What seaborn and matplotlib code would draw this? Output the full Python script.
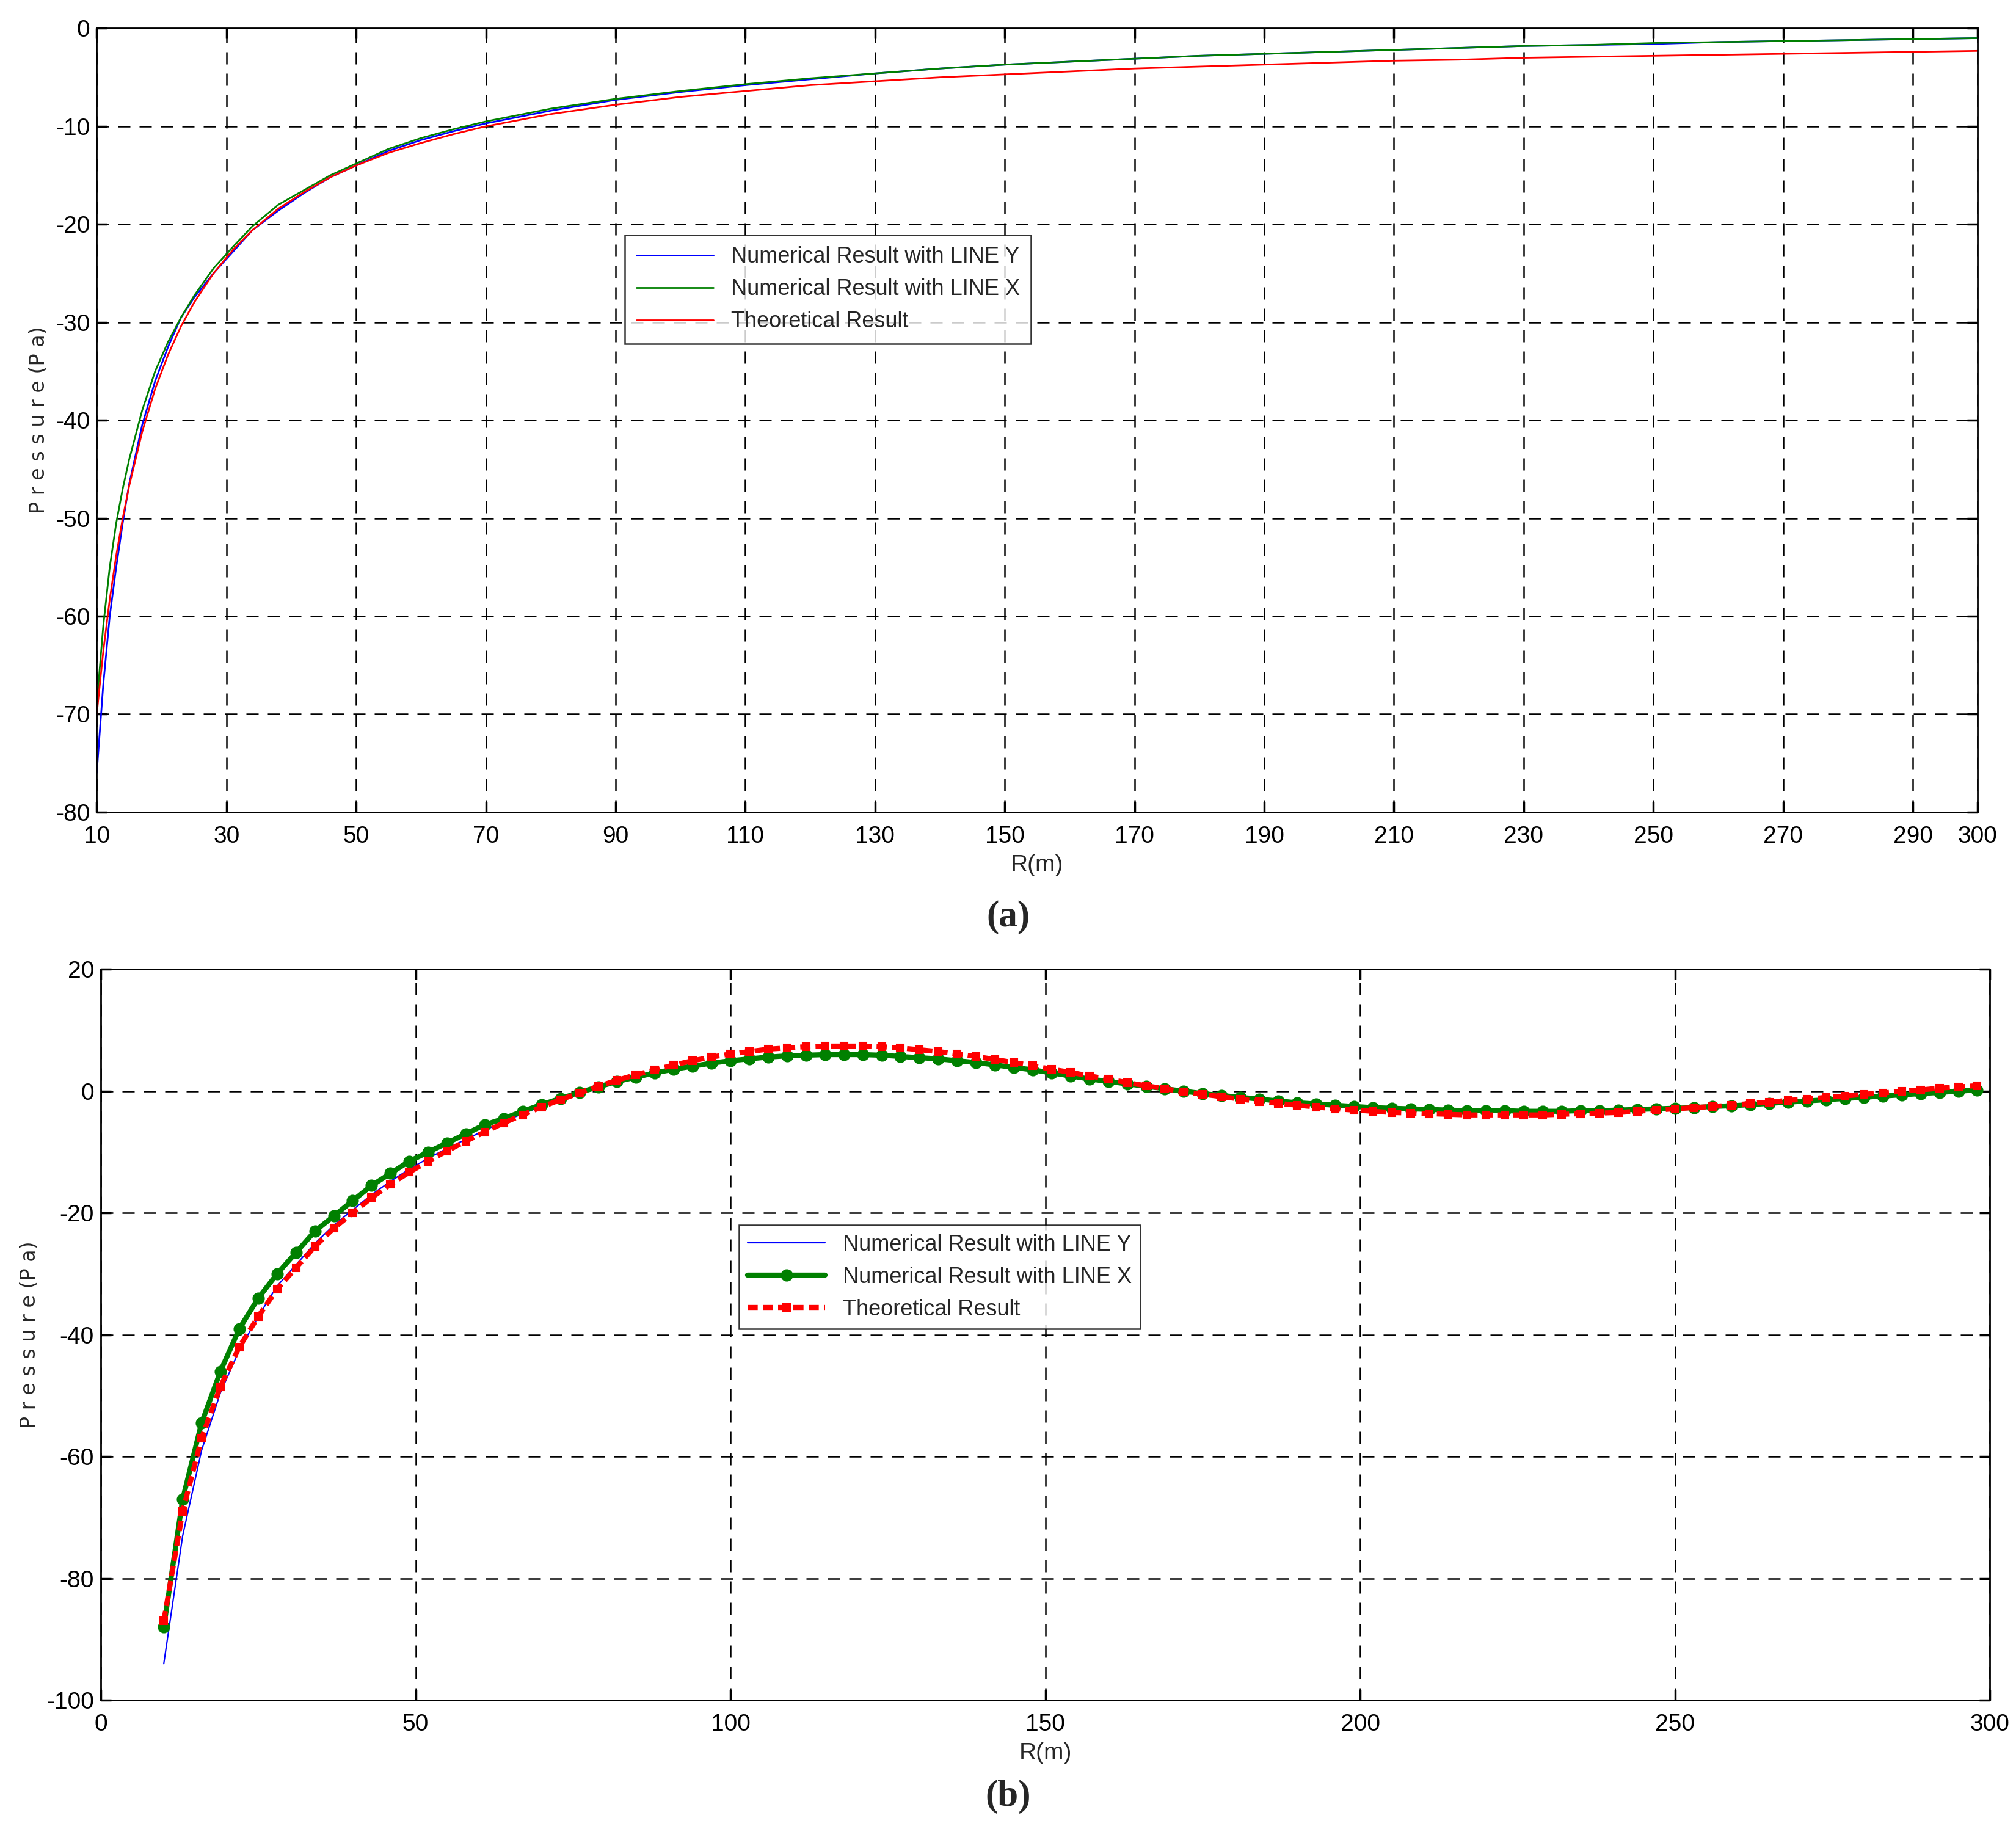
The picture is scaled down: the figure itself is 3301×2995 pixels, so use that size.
import numpy as np
import pandas as pd
import matplotlib
matplotlib.use("Agg")
import matplotlib.pyplot as plt
import seaborn as sns

sns.set_theme(style="white")
plt.rcParams['font.family'] = ['Liberation Sans Narrow', 'Liberation Sans', 'DejaVu Sans']
plt.rcParams['axes.unicode_minus'] = False

# ---------- panel (a) data ----------
xa = [10, 11, 12, 13, 14, 15, 17, 19, 21, 23, 25, 28, 31, 34, 38, 42, 46, 50, 55, 60, 65, 70,
      80, 90, 100, 110, 120, 130, 140, 150, 160, 170, 180, 190, 200, 210, 220, 230, 240, 250,
      260, 270, 280, 290, 300]
a_line_y = [-76, -67, -60, -55, -50.5, -46.5, -40.5, -36, -32.5, -29.5, -27.5, -25, -22.8, -20.6,
            -18.6, -16.8, -15.2, -14, -12.5, -11.4, -10.5, -9.7, -8.4, -7.3, -6.5, -5.8, -5.2,
            -4.6, -4.1, -3.7, -3.4, -3.1, -2.8, -2.6, -2.4, -2.2, -2.0, -1.8, -1.7, -1.6, -1.4,
            -1.3, -1.2, -1.1, -1.0]
a_line_x = [-69, -61, -55, -50.5, -47, -44, -39, -35, -32, -29.5, -27.3, -24.5, -22.3, -20.2, -18,
            -16.5, -15, -13.8, -12.3, -11.2, -10.3, -9.5, -8.2, -7.2, -6.4, -5.7, -5.1, -4.6,
            -4.1, -3.7, -3.4, -3.1, -2.8, -2.6, -2.4, -2.2, -2.0, -1.8, -1.7, -1.5, -1.4, -1.3,
            -1.2, -1.1, -1.0]
a_theory = [-70, -63.6, -58.3, -53.8, -50, -46.7, -41.2, -36.8, -33.3, -30.4, -28, -25, -22.6,
            -20.6, -18.4, -16.7, -15.2, -14, -12.7, -11.7, -10.8, -10, -8.75, -7.8, -7, -6.4,
            -5.8, -5.4, -5, -4.7, -4.4, -4.1, -3.9, -3.7, -3.5, -3.3, -3.2, -3.0, -2.9, -2.8,
            -2.7, -2.6, -2.5, -2.4, -2.3]

# ---------- panel (b) data ----------
xb = list(range(10, 299, 3))
b_line_x = [-88, -67, -54.5, -46, -39, -34, -30, -26.5, -23, -20.5, -18, -15.5, -13.5, -11.5,
            -10, -8.5, -7, -5.5, -4.5, -3.3, -2.2, -1.2, -0.2, 0.7, 1.6, 2.3, 3.0, 3.6, 4.1,
            4.6, 5.0, 5.3, 5.6, 5.8, 5.9, 6.0, 6.0, 6.0, 5.9, 5.7, 5.5, 5.3, 5.0, 4.7, 4.3,
            3.9, 3.5, 3.0, 2.5, 2.0, 1.6, 1.2, 0.8, 0.4, 0.0, -0.4, -0.7, -1.0, -1.3, -1.6,
            -1.9, -2.1, -2.3, -2.5, -2.7, -2.8, -2.9, -3.0, -3.1, -3.2, -3.2, -3.2, -3.3, -3.3,
            -3.3, -3.2, -3.2, -3.1, -3.0, -2.9, -2.8, -2.7, -2.5, -2.4, -2.2, -2.0, -1.8, -1.6,
            -1.4, -1.2, -1.0, -0.8, -0.6, -0.4, -0.2, 0.0, 0.2]
b_theory = [-87, -69, -57, -48.5, -42, -37, -32.5, -29, -25.5, -22.5, -20, -17.5, -15.3, -13.3,
            -11.5, -9.8, -8.2, -6.7, -5.2, -3.9, -2.6, -1.4, -0.3, 0.8, 1.8, 2.7, 3.5, 4.3, 5.0,
            5.6, 6.1, 6.5, 6.9, 7.1, 7.3, 7.4, 7.4, 7.4, 7.3, 7.1, 6.8, 6.5, 6.1, 5.7, 5.2,
            4.7, 4.2, 3.6, 3.1, 2.5, 2.0, 1.4, 0.9, 0.4, -0.1, -0.5, -0.9, -1.3, -1.7, -2.0,
            -2.3, -2.6, -2.9, -3.1, -3.3, -3.5, -3.6, -3.7, -3.8, -3.9, -3.9, -3.9, -3.9, -3.9,
            -3.8, -3.7, -3.6, -3.5, -3.3, -3.1, -2.9, -2.7, -2.5, -2.3, -2.0, -1.8, -1.5, -1.3,
            -1.0, -0.8, -0.5, -0.3, 0.0, 0.2, 0.5, 0.7, 0.9]
b_line_y_head = [-94, -73, -59, -49.5, -42.5, -37, -32, -28.5, -25, -22, -19.5, -17, -14.8,
                 -12.8, -11, -9.4, -7.9, -6.4, -5.0, -3.7, -2.5, -1.4]
b_line_y = b_line_y_head + b_line_x[len(b_line_y_head):]

labels = ["Numerical Result with LINE Y", "Numerical Result with LINE X", "Theoretical Result"]

W, H, DPI = 3301, 2995, 200
fig = plt.figure(figsize=(W / DPI, H / DPI), dpi=DPI)
fig.patch.set_facecolor("white")
axa = fig.add_axes([0.048, 0.556, 0.933, 0.4285])
axb = fig.add_axes([0.050, 0.0704, 0.937, 0.3996])

FS = 14

def style(ax):
    ax.set_facecolor("white")
    for s in ax.spines.values():
        s.set_color("black"); s.set_linewidth(1.0); s.set_visible(True)
    ax.grid(True, color="black", linestyle=(0, (8, 6)), linewidth=0.9)
    ax.tick_params(direction="in", length=6, labelsize=FS, colors="black",
                   bottom=True, left=True, top=True, right=True,
                   labeltop=False, labelright=False)
    ax.tick_params(axis="x", pad=8)
    ax.tick_params(axis="y", pad=4)
    ax.set_xlabel("R(m)", fontsize=FS)
    ax.set_ylabel("P r e s s u r e (P a)", fontsize=FS - 2, family=['DejaVu Sans'])

# panel a
sns.lineplot(x=xa, y=a_line_y, ax=axa, color="blue", lw=1.0, label=labels[0], sort=False, estimator=None)
sns.lineplot(x=xa, y=a_line_x, ax=axa, color="green", lw=1.0, label=labels[1], sort=False, estimator=None)
sns.lineplot(x=xa, y=a_theory, ax=axa, color="red", lw=1.0, label=labels[2], sort=False, estimator=None)
axa.set_xlim(10, 300); axa.set_ylim(-80, 0)
axa.set_xticks(list(range(10, 300, 20)) + [300])
axa.set_yticks(range(-80, 1, 10))
style(axa)
leg = axa.legend(loc="upper left", bbox_to_anchor=(0.275, 0.75), fontsize=FS - 1, frameon=True,
                 fancybox=False, edgecolor="black", handlelength=3.5, borderpad=0.5)
leg.get_frame().set_linewidth(0.9)

# panel b
sns.lineplot(x=xb, y=b_line_y, ax=axb, color="blue", lw=0.8, label=labels[0], sort=False, estimator=None)
sns.lineplot(x=xb, y=b_line_x, ax=axb, color="green", lw=3.0, marker="o", markersize=6.5,
             markeredgecolor="green", label=labels[1], sort=False, estimator=None)
sns.lineplot(x=xb, y=b_theory, ax=axb, color="red", lw=3.0, linestyle=(0, (2, 1)), marker="s",
             markersize=4, markeredgecolor="red", label=labels[2], sort=False, estimator=None)
axb.set_xlim(0, 300); axb.set_ylim(-100, 20)
axb.set_xticks(range(0, 301, 50))
axb.set_yticks(range(-100, 21, 20))
style(axb)
leg = axb.legend(loc="upper left", bbox_to_anchor=(0.332, 0.665), fontsize=FS - 1, frameon=True,
                 fancybox=False, edgecolor="black", handlelength=3.5, borderpad=0.4)
leg.get_frame().set_linewidth(0.9)

fig.text(0.5, 1 - 712 / 1420, "(a)", ha="center", va="center", fontsize=22, fontweight="bold",
         family=['Liberation Serif', 'DejaVu Serif'])
fig.text(0.5, 1 - 1395 / 1420, "(b)", ha="center", va="center", fontsize=22, fontweight="bold",
         family=['Liberation Serif', 'DejaVu Serif'])

fig.savefig("out.png", dpi=DPI, facecolor="white")
